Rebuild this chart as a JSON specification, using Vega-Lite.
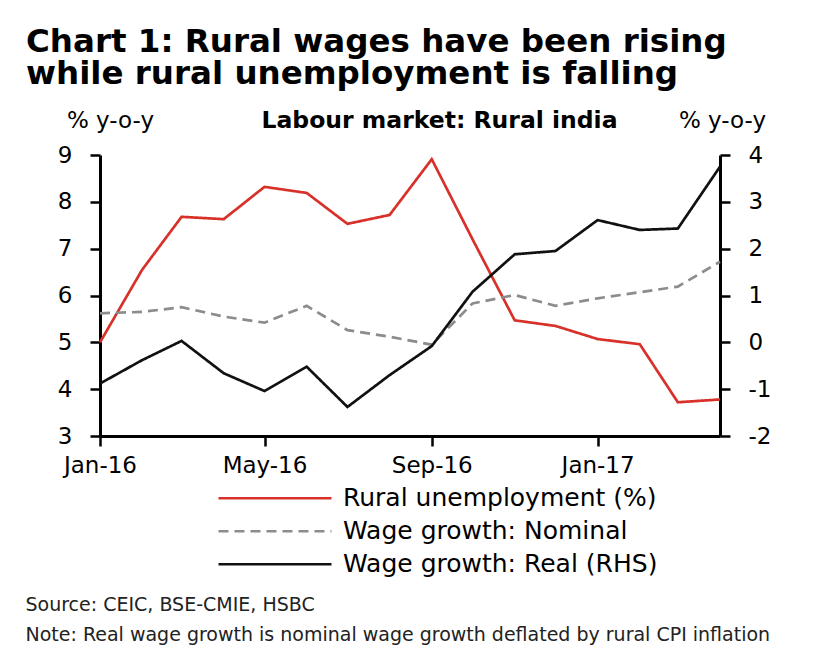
{
  "$schema": "https://vega.github.io/schema/vega-lite/v6.json",
  "width": 620,
  "height": 281,
  "autosize": {"type": "none"},
  "padding": {"left": 100, "top": 155, "right": 114, "bottom": 229},
  "background": "white",
  "config": {"view": {"stroke": null}, "font": "DejaVu Sans"},
  "title": {
    "text": ["Chart 1: Rural wages have been rising", "while rural unemployment is falling"],
    "anchor": "start",
    "frame": "group",
    "dx": -74,
    "offset": 18,
    "fontSize": 32.5,
    "lineHeight": 32,
    "font": "DejaVu Sans",
    "fontWeight": "bold",
    "color": "black"
  },
  "data": {
    "values": [
      {"date": "2016-01-01", "series": "Rural unemployment (%)", "value": 5.0},
      {"date": "2016-02-01", "series": "Rural unemployment (%)", "value": 6.55},
      {"date": "2016-03-01", "series": "Rural unemployment (%)", "value": 7.68},
      {"date": "2016-04-01", "series": "Rural unemployment (%)", "value": 7.63},
      {"date": "2016-05-01", "series": "Rural unemployment (%)", "value": 8.32},
      {"date": "2016-06-01", "series": "Rural unemployment (%)", "value": 8.19},
      {"date": "2016-07-01", "series": "Rural unemployment (%)", "value": 7.53},
      {"date": "2016-08-01", "series": "Rural unemployment (%)", "value": 7.72},
      {"date": "2016-09-01", "series": "Rural unemployment (%)", "value": 8.91},
      {"date": "2016-10-01", "series": "Rural unemployment (%)", "value": 7.2},
      {"date": "2016-11-01", "series": "Rural unemployment (%)", "value": 5.47},
      {"date": "2016-12-01", "series": "Rural unemployment (%)", "value": 5.35},
      {"date": "2017-01-01", "series": "Rural unemployment (%)", "value": 5.07},
      {"date": "2017-02-01", "series": "Rural unemployment (%)", "value": 4.96},
      {"date": "2017-03-01", "series": "Rural unemployment (%)", "value": 3.72},
      {"date": "2017-04-01", "series": "Rural unemployment (%)", "value": 3.78},
      {"date": "2016-01-01", "series": "Wage growth: Nominal", "value": 5.62},
      {"date": "2016-02-01", "series": "Wage growth: Nominal", "value": 5.65},
      {"date": "2016-03-01", "series": "Wage growth: Nominal", "value": 5.75},
      {"date": "2016-04-01", "series": "Wage growth: Nominal", "value": 5.55},
      {"date": "2016-05-01", "series": "Wage growth: Nominal", "value": 5.42},
      {"date": "2016-06-01", "series": "Wage growth: Nominal", "value": 5.78},
      {"date": "2016-07-01", "series": "Wage growth: Nominal", "value": 5.26},
      {"date": "2016-08-01", "series": "Wage growth: Nominal", "value": 5.12},
      {"date": "2016-09-01", "series": "Wage growth: Nominal", "value": 4.95},
      {"date": "2016-10-01", "series": "Wage growth: Nominal", "value": 5.83},
      {"date": "2016-11-01", "series": "Wage growth: Nominal", "value": 6.01},
      {"date": "2016-12-01", "series": "Wage growth: Nominal", "value": 5.78},
      {"date": "2017-01-01", "series": "Wage growth: Nominal", "value": 5.94},
      {"date": "2017-02-01", "series": "Wage growth: Nominal", "value": 6.07},
      {"date": "2017-03-01", "series": "Wage growth: Nominal", "value": 6.19},
      {"date": "2017-04-01", "series": "Wage growth: Nominal", "value": 6.72},
      {"date": "2016-01-01", "series": "Wage growth: Real (RHS)", "value": -0.88},
      {"date": "2016-02-01", "series": "Wage growth: Real (RHS)", "value": -0.38},
      {"date": "2016-03-01", "series": "Wage growth: Real (RHS)", "value": 0.03},
      {"date": "2016-04-01", "series": "Wage growth: Real (RHS)", "value": -0.66},
      {"date": "2016-05-01", "series": "Wage growth: Real (RHS)", "value": -1.04},
      {"date": "2016-06-01", "series": "Wage growth: Real (RHS)", "value": -0.52},
      {"date": "2016-07-01", "series": "Wage growth: Real (RHS)", "value": -1.38},
      {"date": "2016-08-01", "series": "Wage growth: Real (RHS)", "value": -0.7},
      {"date": "2016-09-01", "series": "Wage growth: Real (RHS)", "value": -0.08},
      {"date": "2016-10-01", "series": "Wage growth: Real (RHS)", "value": 1.08},
      {"date": "2016-11-01", "series": "Wage growth: Real (RHS)", "value": 1.88},
      {"date": "2016-12-01", "series": "Wage growth: Real (RHS)", "value": 1.95},
      {"date": "2017-01-01", "series": "Wage growth: Real (RHS)", "value": 2.61},
      {"date": "2017-02-01", "series": "Wage growth: Real (RHS)", "value": 2.4},
      {"date": "2017-03-01", "series": "Wage growth: Real (RHS)", "value": 2.43},
      {"date": "2017-04-01", "series": "Wage growth: Real (RHS)", "value": 3.75}
    ]
  },
  "layer": [
    {
      "transform": [{"filter": "datum.series !== 'Wage growth: Real (RHS)'"}],
      "mark": {"type": "line", "strokeWidth": 2.7},
      "encoding": {
        "x": {
          "field": "date", "type": "temporal",
          "scale": {"type": "utc", "domain": [1451606400000, 1491004800000], "nice": false},
          "axis": {
            "orient": "bottom",
            "values": [1451606400000, 1462060800000, 1472688000000, 1483228800000],
            "labelExpr": "utcFormat(datum.value, '%b-%y')",
            "grid": false,
            "domainColor": "black", "domainWidth": 3,
            "tickColor": "black", "tickWidth": 2.5, "tickSize": 10,
            "labelFont": "DejaVu Sans", "labelFontSize": 23, "labelColor": "black", "labelPadding": 8,
            "labelFlush": false,
            "title": ["Source: CEIC, BSE-CMIE, HSBC", "Note: Real wage growth is nominal wage growth deflated by rural CPI inflation"],
            "titleFont": "DejaVu Sans", "titleFontSize": 19, "titleFontWeight": "normal", "titleColor": "#222",
            "titleAlign": "left", "titleAnchor": "start", "titleBaseline": "alphabetic",
            "titleX": -75, "titleY": 174, "titleLineHeight": 30
          }
        },
        "y": {
          "field": "value", "type": "quantitative",
          "scale": {"domain": [3, 9], "nice": false, "zero": false},
          "axis": {
            "orient": "left", "values": [3, 4, 5, 6, 7, 8, 9], "grid": false,
            "labelExpr": "'' + datum.value",
            "domainColor": "black", "domainWidth": 3,
            "tickColor": "black", "tickWidth": 2.5, "tickSize": 10,
            "labelFont": "DejaVu Sans", "labelFontSize": 23, "labelColor": "black", "labelPadding": 18,
            "labelFlush": false,
            "title": "% y-o-y", "titleAngle": 0, "titleAlign": "center", "titleBaseline": "alphabetic",
            "titleX": 10, "titleY": -28,
            "titleFont": "DejaVu Sans", "titleFontSize": 23, "titleFontWeight": "normal", "titleColor": "black"
          }
        },
        "color": {
          "field": "series", "type": "nominal",
          "scale": {"domain": ["Rural unemployment (%)", "Wage growth: Nominal", "Wage growth: Real (RHS)"], "range": ["#d7312a", "#8c8c8c", "#111111"]},
          "legend": {
            "orient": "none", "legendX": 117, "legendY": 327, "title": null,
            "symbolType": "stroke", "symbolSize": 12769, "symbolStrokeWidth": 2.7,
            "labelFont": "DejaVu Sans", "labelFontSize": 25, "labelColor": "black", "labelOffset": 10,
            "labelLimit": 600, "rowPadding": 0, "clipHeight": 32.5, "padding": 0
          }
        },
        "strokeDash": {
          "field": "series", "type": "nominal",
          "scale": {"domain": ["Rural unemployment (%)", "Wage growth: Nominal", "Wage growth: Real (RHS)"], "range": [[1, 0], [10, 6], [1, 0]]},
          "legend": {
            "orient": "none", "legendX": 117, "legendY": 327, "title": null,
            "symbolType": "stroke", "symbolSize": 12769, "symbolStrokeWidth": 2.7,
            "labelFont": "DejaVu Sans", "labelFontSize": 25, "labelColor": "black", "labelOffset": 10,
            "labelLimit": 600, "rowPadding": 0, "clipHeight": 32.5, "padding": 0
          }
        }
      }
    },
    {
      "transform": [{"filter": "datum.series === 'Wage growth: Real (RHS)'"}],
      "mark": {"type": "line", "strokeWidth": 2.7},
      "encoding": {
        "x": {
          "field": "date", "type": "temporal",
          "scale": {"type": "utc", "domain": [1451606400000, 1491004800000], "nice": false},
          "axis": {
            "orient": "top", "labels": false, "ticks": false, "domain": false, "grid": false,
            "title": "Labour market: Rural india",
            "titleFont": "DejaVu Sans", "titleFontSize": 23.5, "titleFontWeight": "bold", "titleColor": "black",
            "titleAlign": "center", "titleBaseline": "alphabetic", "titleX": 339, "titleY": -28
          }
        },
        "y": {
          "field": "value", "type": "quantitative",
          "scale": {"domain": [-2, 4], "nice": false, "zero": false},
          "axis": {
            "orient": "right", "values": [-2, -1, 0, 1, 2, 3, 4], "grid": false,
            "labelExpr": "'' + datum.value",
            "domainColor": "black", "domainWidth": 3,
            "tickColor": "black", "tickWidth": 2.5, "tickSize": 10,
            "labelFont": "DejaVu Sans", "labelFontSize": 23, "labelColor": "black", "labelPadding": 18,
            "labelFlush": false,
            "title": "% y-o-y", "titleAngle": 0, "titleAlign": "center", "titleBaseline": "alphabetic",
            "titleX": 2, "titleY": -28,
            "titleFont": "DejaVu Sans", "titleFontSize": 23, "titleFontWeight": "normal", "titleColor": "black"
          }
        },
        "color": {
          "field": "series", "type": "nominal",
          "scale": {"domain": ["Rural unemployment (%)", "Wage growth: Nominal", "Wage growth: Real (RHS)"], "range": ["#d7312a", "#8c8c8c", "#111111"]}
        },
        "strokeDash": {
          "field": "series", "type": "nominal",
          "scale": {"domain": ["Rural unemployment (%)", "Wage growth: Nominal", "Wage growth: Real (RHS)"], "range": [[1, 0], [10, 6], [1, 0]]}
        }
      }
    }
  ],
  "resolve": {"scale": {"y": "independent"}, "axis": {"x": "independent"}}
}
